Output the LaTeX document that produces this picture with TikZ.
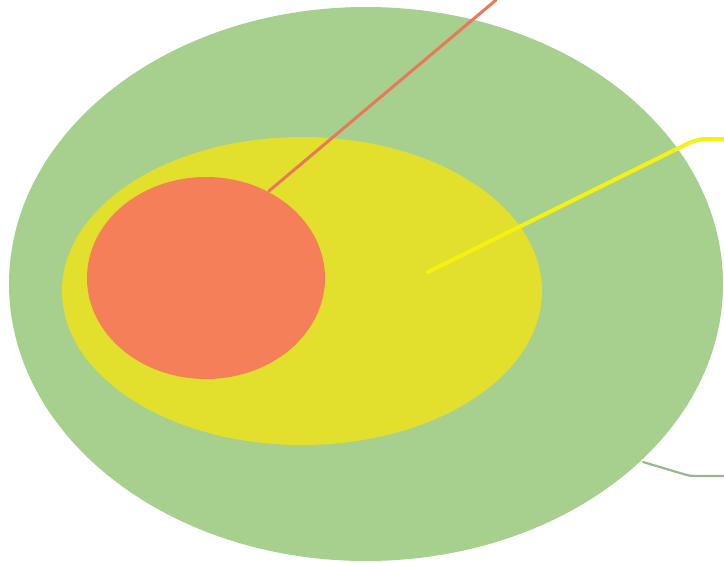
\documentclass[tikz,border=0pt]{standalone}
\usepackage{xcolor}
\usepackage{tikz}

\definecolor{outergreen}{HTML}{A7D08F}
\definecolor{midyellow}{HTML}{E2E02C}
\definecolor{innerred}{HTML}{F47F58}
\definecolor{leadyellow}{HTML}{F5F212}
\definecolor{leadgreen}{HTML}{97B98A}
\definecolor{leadred}{HTML}{E9775A}

\begin{document}
\begin{tikzpicture}[
  x=1pt,
  y=-1pt,
  leader/.style={line cap=round, line join=round},
]
\path[use as bounding box] (0,0) rectangle (724,563);

% Nested sets.
\fill[outergreen] (366,284) ellipse [x radius=357, y radius=277];
\fill[midyellow] (302,291) ellipse [x radius=240, y radius=154];
\fill[innerred] (206,278) ellipse [x radius=119, y radius=101];

% Leader ends.
\coordinate (redIn) at (269,191);
\coordinate (redOut) at (496,0);
\coordinate (yelIn) at (428,272);
\coordinate (yelKnee) at (697,139);
\coordinate (yelOut) at (724,139);
\coordinate (grnIn) at (643,462);
\coordinate (grnKnee) at (690,476);
\coordinate (grnOut) at (724,476);

% Leaders.
\draw[leader, leadred, line width=3pt] (redIn) -- (redOut);
\draw[leader, leadyellow, line width=4pt, rounded corners=9pt] (yelIn) -- (yelKnee) -- (yelOut);
\draw[leader, leadgreen, line width=2.2pt, rounded corners=4pt] (grnIn) -- (grnKnee) -- (grnOut);

\end{tikzpicture}
\end{document}
